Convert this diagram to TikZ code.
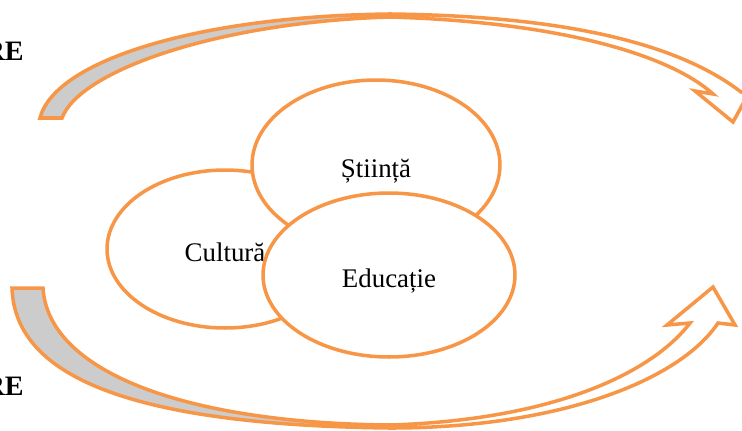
\documentclass[tikz,border=0pt]{standalone}
\usepackage{fontspec}
\setmainfont{Liberation Serif}
\usepackage{xcolor}
\usepackage{tikz}
\usetikzlibrary{shapes.geometric, positioning}
\definecolor{arcorange}{HTML}{F79646}
\definecolor{backgray}{HTML}{CCCCCC}

\begin{document}
\begin{tikzpicture}[
  x=0.02cm, y=-0.02cm,
  field/.style={ellipse, draw=arcorange, line width=2pt, fill=white, inner sep=0pt, text height=0.5cm, text depth=0pt, font=\fontsize{15.3}{18}\selectfont},
  band/.style={draw=arcorange, line width=2pt, line join=miter},
  back/.style={band, fill=backgray},
  front/.style={band, fill=white},
  side/.style={font=\bfseries\fontsize{16}{19}\selectfont, inner sep=0pt},
]
\useasboundingbox (0,0) rectangle (742,430);
\clip (0,0) rectangle (742,430);

% Seta de cima
\draw[back] (40,118) .. controls (55,60) and (200,16) .. (390,14)
  -- (390,17) .. controls (220,22) and (80,70) .. (62,118) -- cycle;
\draw[front] (390,14) .. controls (570,16) and (680,45) .. (741,92)
  -- (750,91) -- (733,122) -- (695,91) -- (713,94)
  .. controls (670,55) and (560,22) .. (390,17) -- cycle;

% Seta de baixo
\draw[back] (12,288) .. controls (15,380) and (140,425) .. (390,428)
  -- (390,425) .. controls (180,423) and (48,370) .. (43,288) -- cycle;
\draw[front] (390,428) .. controls (560,428) and (680,380) .. (718,323)
  -- (735,325) -- (713,287) -- (667,325) -- (690,323)
  .. controls (650,375) and (550,420) .. (390,425) -- cycle;

% Campos
\node[field, minimum width=4.72cm, minimum height=3.16cm] (cultura) at (225,249) {Cultură};
\node[field, minimum width=4.96cm, minimum height=3.4cm] (stiinta) at (376,165) {Știință};
\node[field, minimum width=5.04cm, minimum height=3.28cm] (educatie) at (389,275) {Educație};

% Textos laterais
\node[side, anchor=base east] (topre) at (24,60) {RE};
\node[side, anchor=base east] (botre) at (24,395) {RE};

\end{tikzpicture}
\end{document}
